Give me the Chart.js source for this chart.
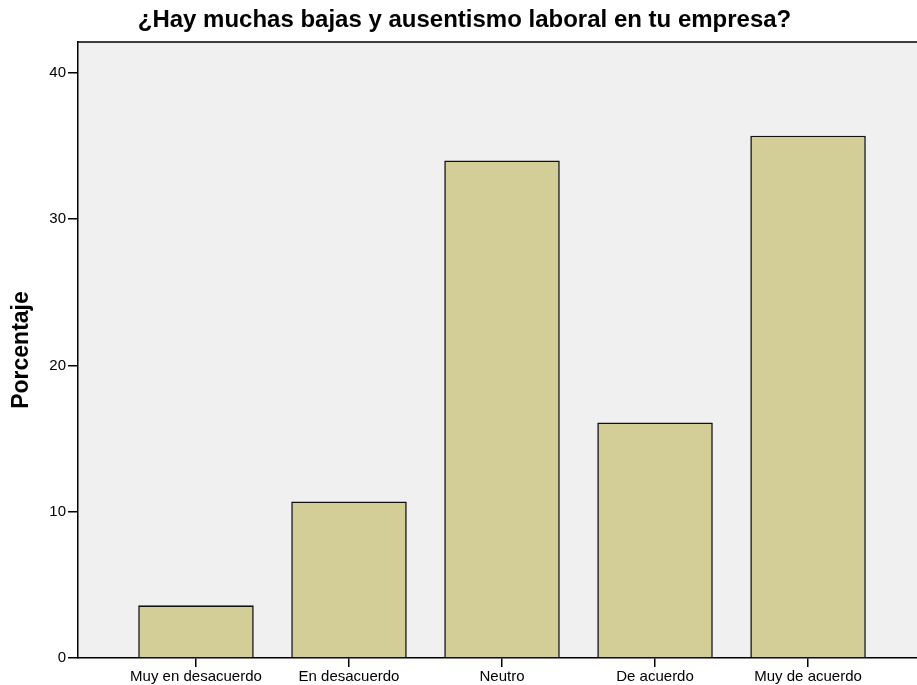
<!DOCTYPE html>
<html>
<head>
<meta charset="utf-8">
<script src="https://cdn.jsdelivr.net/npm/chart.js@4"></script>
<style>
  html, body { margin: 0; padding: 0; background: #fff; overflow: hidden; }
  #wrap { width: 917px; height: 685px; }
</style>
</head>
<body>
<div id="wrap"><canvas id="barChart" width="917" height="685"></canvas></div>
<script>
const categories = ["Muy en desacuerdo", "En desacuerdo", "Neutro", "De acuerdo", "Muy de acuerdo"];
const percentages = [3.6, 10.7, 34.0, 16.1, 35.7];
const yTicks = [0, 10, 20, 30, 40];

const ctx = document.getElementById("barChart").getContext("2d");

// plot background and top border (the right edge is cut off in the original)
const plotFrame = {
    id: "plotFrame",
    beforeDraw(chart) {
        const { ctx, chartArea: a } = chart;
        ctx.save();
        ctx.fillStyle = "#f0f0f0";
        ctx.fillRect(a.left, a.top, a.right - a.left, a.bottom - a.top);
        ctx.strokeStyle = "#000";
        ctx.lineWidth = 1.5;
        ctx.beginPath();
        ctx.moveTo(a.left, a.top);
        ctx.lineTo(a.right, a.top);
        ctx.stroke();
        ctx.restore();
    }
};

new Chart(ctx, {
    type: "bar",
    data: {
        datasets: [{
            data: percentages.map((v, i) => ({ x: i, y: v })),
            backgroundColor: "#d3ce97",
            borderColor: "#111",
            borderWidth: 1.6,
            categoryPercentage: 0.755,
            barPercentage: 1
        }]
    },
    options: {
        responsive: false,
        animation: false,
        // nudges the title to the right like the original
        layout: { padding: { left: 0, right: -12, top: 0, bottom: 0 } },
        plugins: {
            legend: { display: false },
            tooltip: { enabled: false },
            title: {
                display: true,
                text: "¿Hay muchas bajas y ausentismo laboral en tu empresa?",
                color: "#000",
                font: { family: "Liberation Sans, Arial", size: 24, weight: "bold" },
                padding: { top: 6, bottom: 7.2 }
            }
        },
        scales: {
            x: {
                type: "linear",
                offset: false,
                min: -0.771,
                max: 4.712,
                afterFit: s => { s.height = 27; },
                grid: { display: true, offset: false, drawOnChartArea: false, drawTicks: true, tickLength: 9, color: "#000", lineWidth: 1.5 },
                border: { display: true, color: "#000", width: 1.5 },
                ticks: {
                    stepSize: 1,
                    includeBounds: false,
                    autoSkip: false,
                    maxRotation: 0,
                    padding: 1,
                    color: "#000",
                    font: { family: "Liberation Sans, Arial", size: 15 },
                    callback: v => categories[v] ?? ""
                }
            },
            y: {
                min: 0,
                max: 42.1,
                afterFit: s => { s.width = 78; },
                afterBuildTicks: s => { s.ticks = yTicks.map(v => ({ value: v })); },
                grid: { display: true, drawOnChartArea: false, drawTicks: true, tickLength: 10, color: "#000", lineWidth: 1.5 },
                border: { display: true, color: "#000", width: 1.5 },
                ticks: {
                    padding: 2,
                    color: "#000",
                    font: { family: "Liberation Sans, Arial", size: 15 }
                },
                title: {
                    display: true,
                    text: "Porcentaje",
                    color: "#000",
                    font: { family: "Liberation Sans, Arial", size: 23, weight: "bold" },
                    padding: { top: 8, bottom: 0 }
                }
            }
        }
    },
    plugins: [plotFrame]
});
</script>
</body>
</html>
